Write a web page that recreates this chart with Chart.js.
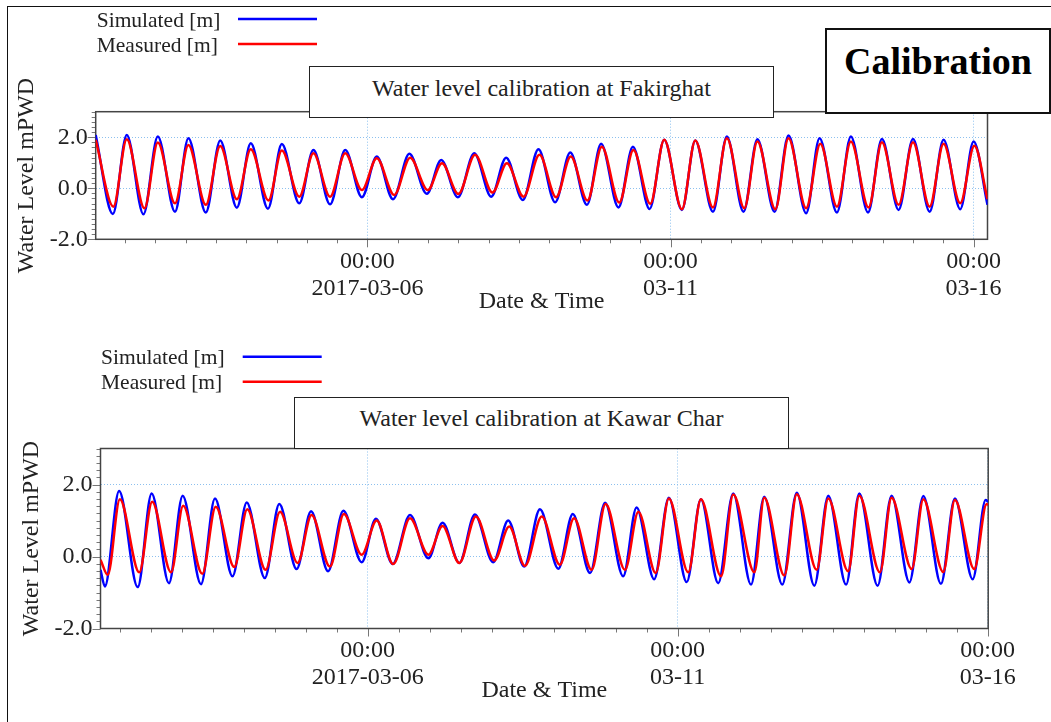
<!DOCTYPE html>
<html>
<head>
<meta charset="UTF-8">
<title>Water level calibration</title>
<script src="https://cdn.jsdelivr.net/npm/chart.js"></script>
<style>
  body { margin: 0; background: #fff; width: 1051px; height: 722px; overflow: hidden; position: relative;
         font-family: "Liberation Serif", "Times New Roman", serif; }
  #frame { position: absolute; left: 7px; top: 6px; width: 1100px; height: 800px;
           border-left: 1.5px solid #111; border-top: 1.5px solid #111; }
  .wrap { position: absolute; left: 0; width: 1051px; }
  .tbox { position: absolute; background: #fff; border: 1.5px solid #222; box-sizing: border-box;
          font-size: 24px; line-height: 24px; color: #222; text-align: center; }
  #calib { position: absolute; left: 825px; top: 28px; width: 226px; height: 86px; box-sizing: border-box;
           border: 2px solid #111; background: #fff; text-align: center; font-weight: bold;
           font-size: 38px; line-height: 38px; padding-top: 12px; color: #000; }
</style>
</head>
<body>
<div id="frame"></div>
<div class="wrap" style="top:0;height:330px"><canvas id="fakChart" width="1051" height="330"></canvas></div>
<div class="wrap" style="top:330px;height:392px"><canvas id="kawChart" width="1051" height="392"></canvas></div>
<div class="tbox" style="left:309px;top:66px;width:465px;height:52px;padding-top:9px">Water level calibration at Fakirghat</div>
<div class="tbox" style="left:294px;top:397px;width:495px;height:52px;padding-top:8px">Water level calibration at Kawar Char</div>
<div id="calib">Calibration</div>

<script>
// hours from 2017-03-06 00:00
var fakSimHours = [-107.6,-100.8,-95.3,-88.7,-83.0,-76.2,-70.9,-64.0,-58.3,-51.7,-46.2,-39.4,-33.9,-27.0,-21.4,-14.8,-8.8,-2.2,3.7,10.1,
  16.6,23.5,29.2,35.8,42.3,49.0,54.9,61.5,67.7,74.3,80.3,86.9,92.5,99.4,105.1,111.7,117.5,124.5,129.8,136.8,
  142.3,148.9,154.4,161.2,166.7,173.7,179.0,185.9,191.4,198.2,203.7,210.3,216.0,222.6,228.1,234.7,240.0,245.5];
var fakSim = [2.09,-1.01,2.09,-1.02,2.03,-0.92,1.96,-0.95,1.87,-0.76,1.76,-0.80,1.73,-0.59,1.50,-0.63,1.50,-0.35,1.24,-0.43,
  1.35,-0.22,1.11,-0.35,1.37,-0.33,1.20,-0.46,1.53,-0.55,1.40,-0.65,1.74,-0.75,1.63,-0.81,1.90,-0.85,1.87,-0.92,
  2.03,-0.92,1.92,-0.92,2.07,-0.98,1.96,-0.95,2.03,-0.95,1.93,-0.85,1.93,-0.92,1.90,-0.82,1.83,-0.65];

var fakMeasHours = [-107.6,-100.6,-95.3,-88.3,-83.0,-76.2,-70.9,-64.0,-58.3,-51.7,-46.2,-39.2,-33.9,-27.0,-21.4,-14.8,-8.8,-2.2,3.7,10.6,
  16.9,23.9,29.5,36.0,42.6,49.5,55.2,61.8,68.1,74.7,80.5,87.1,92.8,99.7,105.3,112.0,117.5,124.5,129.8,136.8,
  142.3,149.2,154.4,161.5,166.7,173.7,179.3,185.9,191.4,198.4,203.7,210.3,216.0,222.6,228.1,234.7,240.3,245.5];
var fakMeas = [1.90,-0.72,1.92,-0.78,1.79,-0.59,1.70,-0.65,1.66,-0.43,1.53,-0.48,1.48,-0.33,1.37,-0.33,1.37,-0.07,1.18,-0.26,
  1.20,-0.07,0.98,-0.22,1.31,-0.17,0.98,-0.33,1.31,-0.35,1.24,-0.48,1.63,-0.56,1.50,-0.61,1.90,-0.82,1.87,-0.75,
  1.96,-0.78,1.83,-0.82,1.96,-0.78,1.74,-0.72,1.83,-0.75,1.80,-0.65,1.80,-0.72,1.74,-0.59,1.67,-0.43];

var kawSimHours = [-103.4,-101.7,-96.2,-89.0,-83.6,-76.9,-71.6,-64.5,-59.1,-52.3,-46.8,-39.8,-34.2,-27.5,-21.9,-15.3,-9.4,-2.3,3.2,9.7,
  16.4,23.5,29.0,35.5,41.5,48.6,54.4,60.6,66.7,73.8,79.4,86.1,91.9,98.9,104.1,110.9,116.6,123.5,129.0,135.7,
  141.5,148.4,153.5,160.5,166.1,172.9,178.3,185.2,190.3,197.4,202.8,209.7,215.1,221.9,227.3,234.2,239.2,240.2];
var kawSim = [-0.37,-0.83,1.82,-0.85,1.75,-0.74,1.69,-0.77,1.61,-0.55,1.50,-0.60,1.46,-0.35,1.26,-0.41,1.27,-0.16,1.05,-0.21,
  1.15,-0.05,0.94,-0.18,1.17,-0.16,1.00,-0.28,1.31,-0.34,1.18,-0.46,1.49,-0.55,1.36,-0.63,1.63,-0.71,1.59,-0.74,
  1.75,-0.78,1.66,-0.78,1.77,-0.81,1.69,-0.78,1.75,-0.81,1.69,-0.72,1.68,-0.76,1.61,-0.63,1.57,1.52];

var kawMeasHours = [-103.4,-100.6,-95.9,-88.4,-83.4,-76.1,-71.4,-64.0,-58.8,-51.6,-46.6,-39.5,-33.9,-27.1,-21.7,-14.6,-9.2,-2.3,3.5,9.9,
  16.4,23.5,29.0,35.5,41.9,49.0,54.8,60.9,67.4,74.4,79.9,86.7,92.1,99.6,104.8,111.5,116.6,124.1,129.0,136.8,
  141.5,149.7,153.5,161.3,166.1,173.8,178.3,186.0,190.3,198.3,202.8,210.6,215.1,222.8,227.3,234.8,239.6,240.2];
var kawMeas = [-0.09,-0.51,1.59,-0.44,1.52,-0.44,1.41,-0.48,1.38,-0.29,1.31,-0.37,1.24,-0.18,1.15,-0.28,1.18,0.05,1.00,-0.21,
  1.06,0.05,0.85,-0.18,1.11,-0.11,0.83,-0.26,1.11,-0.23,1.06,-0.37,1.46,-0.37,1.24,-0.46,1.61,-0.44,1.59,-0.55,
  1.72,-0.44,1.63,-0.53,1.73,-0.37,1.61,-0.41,1.69,-0.44,1.63,-0.35,1.59,-0.43,1.57,-0.35,1.46,1.43];

// x axis labels (hours -> date)
var xMajorHours = [0, 120, 240];
var xMajorTime = ['00:00', '00:00', '00:00'];
var xMajorDates = ['2017-03-06', '03-11', '03-16'];
var yMajorValues = [-2, 0, 2];

var serif = '"Liberation Serif", "Times New Roman", serif';
var gridBlue = '#8cc0ef';

function pts(xs, ys) {
  return xs.map(function(x, i) { return {x: x, y: ys[i]}; });
}
function isMajorX(v) { return xMajorHours.indexOf(v) >= 0; }
function isMajorY(v) { return yMajorValues.some(function(m) { return Math.abs(m - v) < 1e-6; }); }

// plot box + long/short tick marks + legend with the line sample after the text
var paperBits = {
  id: 'paperBits',
  beforeDatasetsDraw: function(chart) {
    var ctx = chart.ctx, a = chart.chartArea, x = chart.scales.x, y = chart.scales.y;
    ctx.save();
    ctx.strokeStyle = '#777';
    ctx.lineWidth = 1;
    ctx.beginPath();
    x.ticks.forEach(function(t) {
      var px = Math.round(x.getPixelForValue(t.value)) + 0.5;
      ctx.moveTo(px, a.bottom);
      ctx.lineTo(px, a.bottom + (isMajorX(t.value) ? 8 : 4));
    });
    y.ticks.forEach(function(t) {
      var py = Math.round(y.getPixelForValue(t.value)) + 0.5;
      ctx.moveTo(a.left, py);
      ctx.lineTo(a.left - (isMajorY(t.value) ? 8 : 4), py);
    });
    ctx.stroke();
    ctx.strokeStyle = '#444';
    ctx.lineWidth = 1.5;
    ctx.strokeRect(a.left, a.top, a.right - a.left, a.bottom - a.top);
    ctx.restore();
  },
  afterDraw: function(chart, args, opts) {
    var ctx = chart.ctx;
    ctx.save();
    ctx.font = '21.5px ' + serif;
    ctx.textBaseline = 'alphabetic';
    ctx.fillStyle = '#222';
    chart.data.datasets.forEach(function(ds, i) {
      var cy = opts.y + i * 25;
      ctx.fillText(ds.label, opts.x, cy + 7.5);
      ctx.strokeStyle = ds.borderColor;
      ctx.lineWidth = 2.5;
      ctx.beginPath();
      ctx.moveTo(opts.x1, cy);
      ctx.lineTo(opts.x2, cy);
      ctx.stroke();
    });
    ctx.restore();
  }
};

function makeChart(id, sim, meas, xmin, xmax, lay) {
  return new Chart(document.getElementById(id), {
    type: 'line',
    data: {
      datasets: [
        { label: 'Simulated [m]', data: sim, borderColor: '#0000ff', borderWidth: 2.5, order: 1 },
        { label: 'Measured [m]', data: meas, borderColor: '#ff0000', borderWidth: 2.5, order: 0 }
      ]
    },
    options: {
      responsive: false,
      animation: false,
      cubicInterpolationMode: 'monotone',
      elements: { point: { radius: 0 } },
      layout: { padding: lay.padding },
      plugins: {
        legend: { display: false },
        tooltip: { enabled: false },
        paperBits: lay.legend
      },
      scales: {
        x: {
          type: 'linear',
          min: xmin, max: xmax,
          afterFit: function(s) { s.height = 77; },
          border: { display: false, dash: [1, 2] },
          grid: {
            drawTicks: false,
            color: function(c) { return c.tick && isMajorX(c.tick.value) ? gridBlue : 'rgba(0,0,0,0)'; }
          },
          ticks: {
            stepSize: 12, includeBounds: false, autoSkip: false, maxRotation: 0, padding: 9,
            color: '#222', font: { family: serif, size: 24, lineHeight: 1.125 },
            callback: function(v) {
              var i = xMajorHours.indexOf(v);
              return i < 0 ? '' : [xMajorTime[i], xMajorDates[i]];
            }
          },
          title: { display: true, text: 'Date & Time', color: '#222', padding: 0,
                   font: { family: serif, size: 24, lineHeight: 1.2 } }
        },
        y: {
          min: -2, max: 3,
          afterFit: function(s) { s.width = lay.yWidth; },
          border: { display: false, dash: [1, 2] },
          grid: {
            drawTicks: false,
            color: function(c) { return c.tick && isMajorY(c.tick.value) ? gridBlue : 'rgba(0,0,0,0)'; }
          },
          ticks: {
            stepSize: 0.2, autoSkip: false, padding: 8, color: '#222', font: { family: serif, size: 24 },
            callback: function(v) { return isMajorY(v) ? v.toFixed(1) : ''; }
          },
          title: { display: true, text: 'Water Level mPWD', color: '#222',
                   padding: { top: lay.yTitlePad, bottom: 0 },
                   font: { family: serif, size: 24, lineHeight: 1.2 } }
        }
      }
    },
    plugins: [paperBits]
  });
}

makeChart('fakChart', pts(fakSimHours, fakSim), pts(fakMeasHours, fakMeas), -107.6, 245.5, {
  padding: { top: 111.7, right: 63.5, bottom: 13.7, left: 0 },
  yWidth: 95.7, yTitlePad: 12.5,
  legend: { x: 96.7, y: 19, x1: 238, x2: 317 }
});
makeChart('kawChart', pts(kawSimHours, kawSim), pts(kawMeasHours, kawMeas), -103.4, 240.2, {
  padding: { top: 118.5, right: 62.8, bottom: 16.5, left: 0 },
  yWidth: 100.5, yTitlePad: 17.5,
  legend: { x: 101, y: 26.7, x1: 242.7, x2: 321.7 }
});
</script>
</body>
</html>
